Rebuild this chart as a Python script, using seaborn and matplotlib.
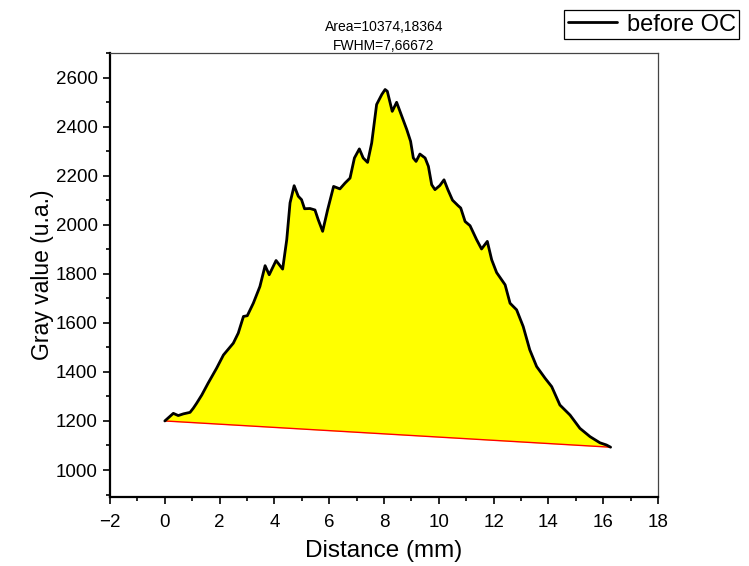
import numpy as np
import pandas as pd
import matplotlib
matplotlib.use("Agg")
import matplotlib.pyplot as plt
from matplotlib.ticker import MultipleLocator
import seaborn as sns

# ---- data ----
distance = [0.00, 0.15, 0.31, 0.49, 0.68, 0.92, 1.04, 1.16, 1.35, 1.58, 1.89, 2.14,
            2.50, 2.68, 2.87, 3.01, 3.23, 3.47, 3.66, 3.81, 4.06, 4.30, 4.45, 4.57,
            4.72, 4.87, 4.99, 5.10, 5.30, 5.48, 5.60, 5.76, 5.94, 6.16, 6.39, 6.58,
            6.76, 6.92, 7.10, 7.24, 7.40, 7.55, 7.73, 7.92, 8.04, 8.12, 8.30, 8.46,
            8.65, 8.83, 8.97, 9.07, 9.17, 9.31, 9.50, 9.62, 9.74, 9.86, 10.04, 10.19,
            10.33, 10.50, 10.70, 10.80, 10.96, 11.14, 11.38, 11.56, 11.77, 11.93,
            12.11, 12.42, 12.60, 12.84, 13.08, 13.32, 13.57, 13.88, 14.12, 14.42,
            14.79, 15.15, 15.52, 15.88, 16.12, 16.27]
gray = [1200, 1215, 1231, 1222, 1229, 1235, 1252, 1272, 1306, 1354, 1415, 1469,
        1517, 1558, 1626, 1629, 1680, 1748, 1833, 1796, 1854, 1819, 1939, 2089,
        2159, 2116, 2102, 2065, 2066, 2060, 2020, 1973, 2060, 2156, 2146, 2170,
        2190, 2272, 2309, 2272, 2254, 2333, 2490, 2531, 2551, 2544, 2462, 2499,
        2442, 2388, 2340, 2272, 2258, 2288, 2272, 2238, 2163, 2143, 2160, 2183,
        2143, 2100, 2078, 2068, 2013, 1996, 1939, 1901, 1932, 1857,
        1805, 1755, 1680, 1653, 1585, 1490, 1422, 1374, 1340, 1265,
        1224, 1170, 1136, 1111, 1102, 1093]
baseline_x = [0.0, 16.27]
baseline_y = [1200, 1093]
series_label = "before OC"
title_text = "Area=10374,18364\nFWHM=7,66672"
x_label = "Distance (mm)"
y_label = "Gray value (u.a.)"

sns.set_theme(style="ticks")
plt.rcParams['font.family'] = ['Liberation Sans', 'DejaVu Sans']
plt.rcParams['text.color'] = 'black'
plt.rcParams['axes.labelcolor'] = 'black'
plt.rcParams['xtick.color'] = 'black'
plt.rcParams['ytick.color'] = 'black'

fig = plt.figure(figsize=(7.49, 5.66), dpi=100)
ax = fig.add_axes([0.1469, 0.1219, 0.7316, 0.7845])

df = pd.DataFrame({"x": distance, "y": gray})
base_at_x = np.interp(distance, baseline_x, baseline_y)
ax.fill_between(distance, gray, base_at_x, color="#ffff00", lw=0, zorder=1)
sns.lineplot(x=baseline_x, y=baseline_y, color="red", lw=1.0, ax=ax, zorder=2)
sns.lineplot(data=df, x="x", y="y", color="black", lw=2.0, ax=ax, sort=False,
             label=series_label, zorder=3)

ax.set_xlim(-2, 18)
ax.set_ylim(890, 2700)
ax.xaxis.set_major_locator(MultipleLocator(2))
ax.xaxis.set_minor_locator(MultipleLocator(1))
ax.yaxis.set_major_locator(MultipleLocator(200))
ax.yaxis.set_minor_locator(MultipleLocator(100))
ax.tick_params(axis='both', which='major', direction='out', length=5, width=1.2,
               labelsize=13.5, color='black', labelcolor='black')
ax.tick_params(axis='x', which='major', pad=7)
ax.tick_params(axis='y', which='major', pad=4)
ax.tick_params(axis='both', which='minor', direction='out', length=3, width=1.2,
               color='black')
ax.tick_params(top=False, right=False, which='both')

for side in ['left', 'bottom']:
    ax.spines[side].set_linewidth(1.6)
    ax.spines[side].set_color('black')
for side in ['top', 'right']:
    ax.spines[side].set_visible(True)
    ax.spines[side].set_linewidth(0.9)
    ax.spines[side].set_color('#444444')

ax.set_xlabel(x_label, fontsize=17.5, labelpad=7, color='black')
ax.set_ylabel(y_label, fontsize=16.5, labelpad=1, color='black')
ax.set_title(title_text, fontsize=10, pad=2, linespacing=1.45, color='black')

leg = ax.legend(loc='upper right', bbox_to_anchor=(0.987, 0.982),
                bbox_transform=fig.transFigure, borderaxespad=0,
                frameon=True, fancybox=False, framealpha=1, edgecolor='black',
                fontsize=17, handlelength=2.1, handletextpad=0.4,
                borderpad=0.15, labelcolor='black')
leg.get_frame().set_linewidth(0.9)

fig.savefig("out.png", dpi=100)
